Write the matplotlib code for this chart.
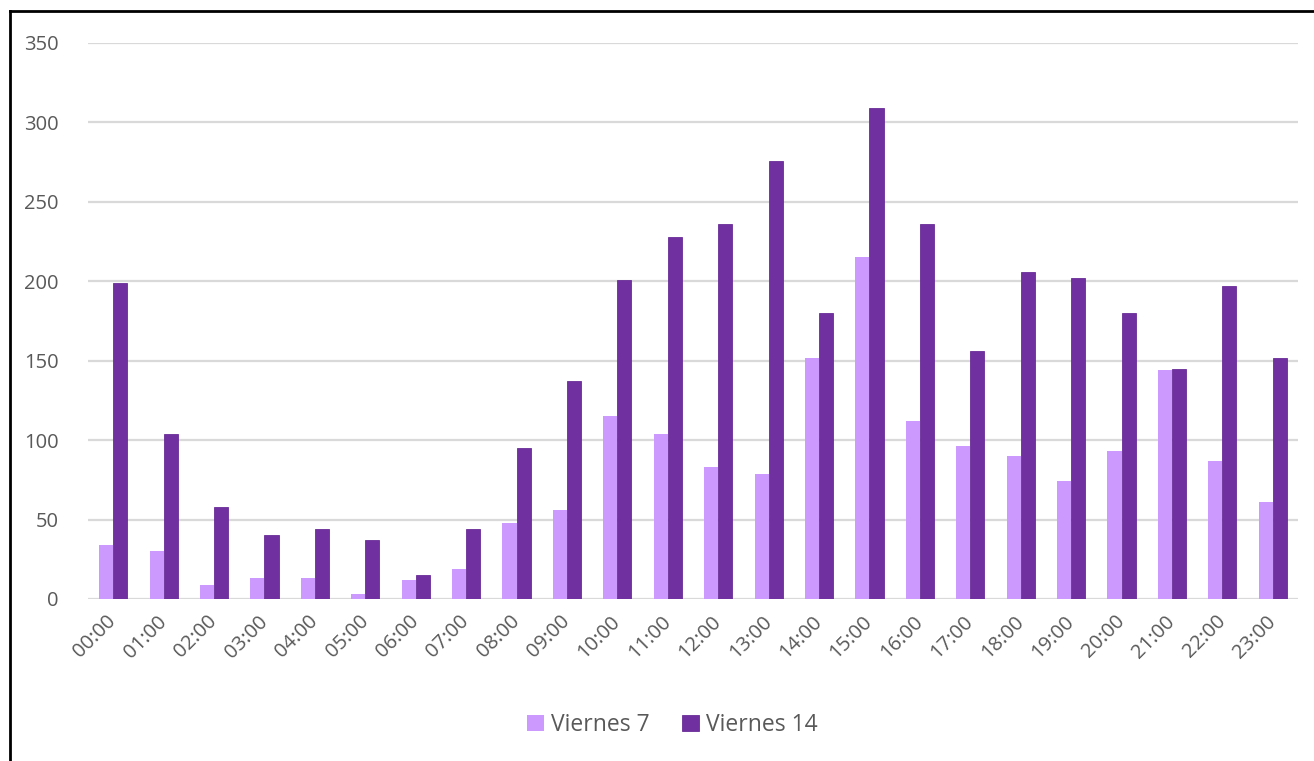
import matplotlib
matplotlib.use("Agg")
import matplotlib.pyplot as plt
import matplotlib.transforms as mtransforms
from matplotlib.lines import Line2D
import numpy as np

# data
hours = [f"{h:02d}:00" for h in range(24)]
viernes_7 = [34, 30, 9, 13, 13, 3, 12, 19, 48, 56, 115, 104,
             83, 79, 152, 215, 112, 96, 90, 74, 93, 144, 87, 61]
viernes_14 = [199, 104, 58, 40, 44, 37, 15, 44, 95, 137, 201, 228,
              236, 276, 180, 309, 236, 156, 206, 202, 180, 145, 197, 152]
series_names = ["Viernes 7", "Viernes 14"]

light = "#CC99FF"
dark = "#7030A0"
text_gray = "#595959"
grid_gray = "#D9D9D9"

plt.rcParams['font.family'] = ['Open Sans', 'DejaVu Sans']

fig = plt.figure(figsize=(13.14, 7.61), dpi=100)
ax = fig.add_axes([88 / 1314, 1 - 599 / 761, (1298 - 88) / 1314, (599 - 43) / 761])

x = np.arange(len(hours))
w = 0.28
ax.bar(x - w / 2, viernes_7, width=w, color=light, label=series_names[0], zorder=3)
ax.bar(x + w / 2, viernes_14, width=w, color=dark, edgecolor="#6A2C99",
       linewidth=0.6, label=series_names[1], zorder=3)

ax.set_xlim(-0.5, len(hours) - 0.5)
ax.set_ylim(0, 350)
ax.set_yticks(range(0, 351, 50))
ax.yaxis.grid(True, color=grid_gray, linewidth=1.6)
ax.set_axisbelow(True)
for s in ax.spines.values():
    s.set_visible(False)
ax.tick_params(axis="both", length=0, colors=text_gray, labelsize=14.5)
ax.tick_params(axis="y", pad=21)
ax.set_xticks(x)
ax.set_xticklabels(hours, rotation=45, ha="right", va="top", rotation_mode="anchor")
ax.tick_params(axis="x", pad=9)
shift = mtransforms.ScaledTranslation(-7 / 100, 0, fig.dpi_scale_trans)
for lbl in ax.get_xticklabels():
    lbl.set_transform(lbl.get_transform() + shift)

leg = fig.legend(loc="center", bbox_to_anchor=(672 / 1314, 1 - 725 / 761), ncol=2,
                 frameon=False, fontsize=16.5, handlelength=0.75, handleheight=0.75,
                 handletextpad=0.3, columnspacing=1.4, labelcolor=text_gray)

# screenshot frame (left and top edges only)
fig.add_artist(Line2D([10 / 1314, 10 / 1314], [0, 1 - 11 / 761], color="black",
                      linewidth=2, transform=fig.transFigure))
fig.add_artist(Line2D([10 / 1314, 1], [1 - 11 / 761, 1 - 11 / 761], color="black",
                      linewidth=2, transform=fig.transFigure))

fig.savefig("out.png", dpi=100, facecolor="white")
